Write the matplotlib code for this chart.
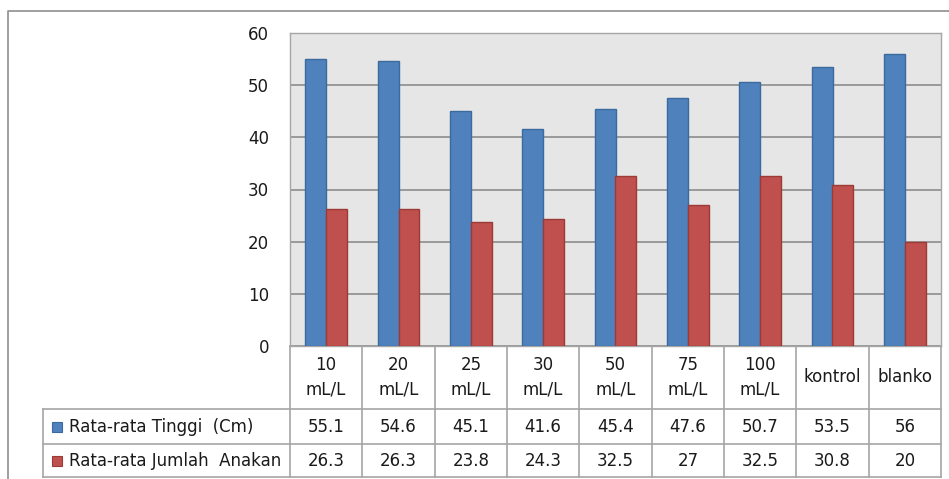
import matplotlib
matplotlib.use("Agg")
import matplotlib.pyplot as plt
from matplotlib.patches import Rectangle

# ----------------------------------------------------
#                      DATA
# ----------------------------------------------------
categories = ["10\nmL/L", "20\nmL/L", "25\nmL/L", "30\nmL/L", "50\nmL/L",
              "75\nmL/L", "100\nmL/L", "kontrol", "blanko"]
series_names = ["Rata-rata Tinggi  (Cm)", "Rata-rata Jumlah  Anakan"]
tinggi = [55.1, 54.6, 45.1, 41.6, 45.4, 47.6, 50.7, 53.5, 56]
anakan = [26.3, 26.3, 23.8, 24.3, 32.5, 27, 32.5, 30.8, 20]
y_ticks = [0, 10, 20, 30, 40, 50, 60]

colors = ["#4F81BD", "#C0504D"]
edges = ["#3A6A9E", "#9B3B38"]

# ----------------------------------------------------
#                      LAYOUT (pixels)
# ----------------------------------------------------
W, H = 949, 479
PLOT_L, PLOT_R = 290, 941
PLOT_T, PLOT_B = 33, 346
ROW1, ROW2, TAB_B = 409, 444, 477
LEG_L = 43
FONT = 12
TXT = "#1A1A1A"
GRID = "#8C8C8C"
LINE = "#A6A6A6"

fig = plt.figure(figsize=(W / 100, H / 100), dpi=100)
fig.patch.set_facecolor("white")

# overlay in pixel coordinates for the border and data table
ov = fig.add_axes([0, 0, 1, 1])
ov.set_xlim(0, W)
ov.set_ylim(H, 0)
ov.axis("off")

# chart area border
ov.plot([8, 8, W + 5], [H + 5, 11, 11], color="#8F8F8F", lw=1.2)

# ---------------- Bar Chart ----------------
ax = fig.add_axes([PLOT_L / W, 1 - PLOT_B / H,
                   (PLOT_R - PLOT_L) / W, (PLOT_B - PLOT_T) / H])
ax.set_facecolor("#E6E6E6")
n = len(categories)
bw = 0.29
xs = [i + 0.5 for i in range(n)]
ax.bar([x - bw / 2 for x in xs], tinggi, width=bw, color=colors[0],
       edgecolor=edges[0], linewidth=1, zorder=3)
ax.bar([x + bw / 2 for x in xs], anakan, width=bw, color=colors[1],
       edgecolor=edges[1], linewidth=1, zorder=3)
ax.set_xlim(0, n)
ax.set_ylim(0, 60)
ax.set_yticks(y_ticks)
ax.set_yticklabels([str(t) for t in y_ticks], fontsize=FONT, color=TXT)
ax.tick_params(axis="y", length=0, pad=15)
ax.set_xticks([])
ax.yaxis.grid(True, color=GRID, lw=1.2, zorder=1)
for side in ax.spines:
    ax.spines[side].set_color(LINE)
    ax.spines[side].set_linewidth(1)

# ---------------- Data Table ----------------
col_w = (PLOT_R - PLOT_L) / n
bounds = [PLOT_L + i * col_w for i in range(n + 1)]

# horizontal lines
ov.plot([PLOT_L, PLOT_R], [PLOT_B, PLOT_B], color=LINE, lw=1.2)
for y in (ROW1, ROW2, TAB_B):
    ov.plot([LEG_L, PLOT_R], [y, y], color=LINE, lw=1.2)
# vertical lines
for b in bounds:
    ov.plot([b, b], [PLOT_B, TAB_B], color=LINE, lw=1.2)
ov.plot([LEG_L, LEG_L], [ROW1, TAB_B], color=LINE, lw=1.2)

# category headers
for i, cat in enumerate(categories):
    cx = (bounds[i] + bounds[i + 1]) / 2
    ov.text(cx, (PLOT_B + ROW1) / 2, cat, ha="center", va="center",
            fontsize=FONT, linespacing=1.45, color=TXT)

# series rows with legend keys
for r, (name, vals) in enumerate(zip(series_names, [tinggi, anakan])):
    top = ROW1 if r == 0 else ROW2
    bot = ROW2 if r == 0 else TAB_B
    cy = (top + bot) / 2
    ov.add_patch(Rectangle((52, cy - 5), 10, 10, facecolor=colors[r],
                           edgecolor=edges[r], lw=0.8))
    ov.text(69, cy + 0.5, name, ha="left", va="center", fontsize=FONT,
            color=TXT)
    for i, v in enumerate(vals):
        cx = (bounds[i] + bounds[i + 1]) / 2
        ov.text(cx, cy + 0.5, f"{v:g}", ha="center", va="center",
                fontsize=FONT, color=TXT)

fig.savefig("out.png", dpi=100)
plt.close(fig)
